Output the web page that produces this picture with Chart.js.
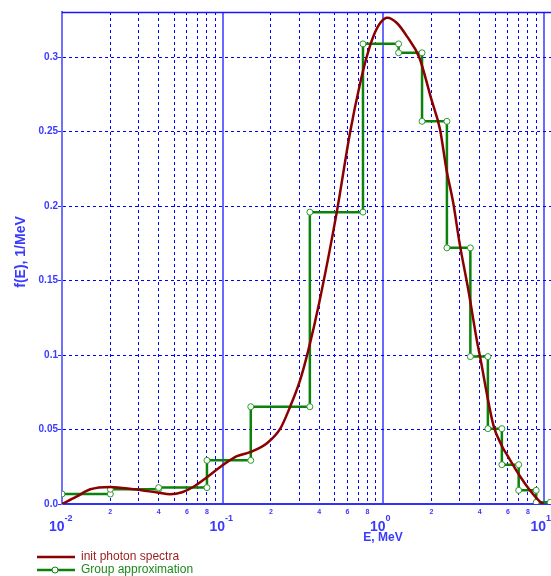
<!DOCTYPE html>
<html>
<head>
<meta charset="utf-8">
<script src="https://cdn.jsdelivr.net/npm/chart.js@4/dist/chart.umd.min.js"></script>
<style>
  html, body { margin: 0; padding: 0; overflow: hidden; background: #fff; }
  #chart { position: absolute; left: 0; top: 0; }
</style>
</head>
<body>
<canvas id="chart" width="566" height="576"></canvas>
<script>
// init photon spectra
const spectrumE = [0.01, 0.0123, 0.015, 0.02, 0.028, 0.04, 0.047, 0.056, 0.066, 0.08, 0.1, 0.122, 0.15, 0.19, 0.23,
                   0.263, 0.304, 0.342, 0.40, 0.515, 0.622, 0.72, 0.79, 0.87, 0.96, 1.065, 1.22, 1.41, 1.68, 2.01,
                   2.26, 2.49, 2.74, 3.0, 3.4, 3.84, 4.02, 4.87, 5.5, 6.0, 7.1, 8.2, 9.5, 10.0];
const spectrumF = [0.0, 0.0049, 0.0099, 0.0115, 0.0099, 0.0076, 0.0066, 0.0079, 0.0116, 0.018, 0.026, 0.032, 0.035, 0.041, 0.051,
                   0.065, 0.083, 0.103, 0.135, 0.196, 0.249, 0.2825, 0.300, 0.314, 0.323, 0.3266, 0.323, 0.314, 0.300, 0.271,
                   0.252, 0.224, 0.202, 0.175, 0.1437, 0.110, 0.099, 0.053, 0.039, 0.032, 0.019, 0.0094, 0.0016, 0.0];

// group approximation: group boundaries and group values
const groupEdges = [0.01, 0.02, 0.04, 0.08, 0.15, 0.35, 0.75, 1.25, 1.75, 2.5, 3.5, 4.5, 5.5, 7, 9, 11];
const groupValues = [0.0067, 0.0099, 0.011, 0.0293, 0.0653, 0.196, 0.309, 0.303, 0.257, 0.172, 0.099, 0.0506, 0.0264, 0.0092, 0.0011];

// axis labels
const decades = [-2, -1, 0, 1];
const minorLabels = [2, 4, 6, 8];
const xMin = 0.01, xMax = 13.8;
const yMin = 0, yMax = 0.3304, yStep = 0.05;

const spectrumData = spectrumE.map((e, i) => ({x: e, y: spectrumF[i]}));
const groupData = [];
groupValues.forEach((v, i) => {
    groupData.push({x: groupEdges[i], y: v});
    groupData.push({x: groupEdges[i + 1], y: v});
});

const xTickValues = [];
decades.forEach(d => {
    for (let m = 1; m <= 9; m++) {
        const v = m * Math.pow(10, d);
        if (v >= xMin && v <= xMax) xTickValues.push(v);
    }
});
const isDecade = v => Math.abs(Math.log10(v) - Math.round(Math.log10(v))) < 1e-9;

const BLUE = '#0000ff';
const TEXT_BLUE = '#3a3aff';

const decor = {
    id: 'decor',
    afterDraw(chart) {
        const {ctx, chartArea: a, scales: {x}} = chart;
        ctx.save();
        // top frame line
        ctx.strokeStyle = '#1515ff';
        ctx.lineWidth = 1.5;
        ctx.beginPath();
        ctx.moveTo(a.left, a.top + 0.5);
        ctx.lineTo(a.right, a.top + 0.5);
        ctx.stroke();

        // x tick labels
        ctx.fillStyle = TEXT_BLUE;
        ctx.textBaseline = 'alphabetic';
        ctx.textAlign = 'center';
        ctx.font = 'bold 7px Arial';
        decades.forEach(d => minorLabels.forEach(m => {
            const v = m * Math.pow(10, d);
            if (v <= xMax) ctx.fillText(String(m), x.getPixelForValue(v), a.bottom + 10);
        }));
        ctx.textAlign = 'left';
        decades.forEach(d => {
            const px = x.getPixelForValue(Math.pow(10, d));
            ctx.font = 'bold 14px Arial';
            const w1 = ctx.measureText('10').width;
            const left = px - 13;
            ctx.fillText('10', left, a.bottom + 27);
            ctx.font = 'bold 9px Arial';
            ctx.fillText(String(d), left + w1, a.bottom + 17);
        });

        // axis titles
        ctx.font = 'bold 12px Arial';
        ctx.textAlign = 'center';
        ctx.textBaseline = 'middle';
        ctx.fillText('E, MeV', x.getPixelForValue(1), 538);
        ctx.save();
        ctx.translate(21, 252);
        ctx.rotate(-Math.PI / 2);
        ctx.font = 'bold 14px Arial';
        ctx.fillText('f(E), 1/MeV', 0, 0);
        ctx.restore();

        // legend
        ctx.lineWidth = 2.5;
        ctx.strokeStyle = '#8b0000';
        ctx.beginPath(); ctx.moveTo(37, 557); ctx.lineTo(75, 557); ctx.stroke();
        ctx.strokeStyle = '#0b820b';
        ctx.beginPath(); ctx.moveTo(37, 570); ctx.lineTo(75, 570); ctx.stroke();
        ctx.lineWidth = 1;
        ctx.fillStyle = '#ffffff';
        ctx.beginPath(); ctx.arc(55, 570, 3, 0, Math.PI * 2); ctx.fill(); ctx.stroke();
        ctx.font = '12px Arial';
        ctx.textAlign = 'left';
        ctx.fillStyle = '#9a1c1c';
        ctx.fillText('init photon spectra', 81, 557);
        ctx.fillStyle = '#1c8a1c';
        ctx.fillText('Group approximation', 81, 570);
        ctx.restore();
    }
};

new Chart(document.getElementById('chart'), {
    type: 'line',
    data: {
        datasets: [{
            label: 'init photon spectra',
            data: spectrumData,
            borderColor: '#8b0000',
            borderWidth: 2.5,
            pointRadius: 0,
            cubicInterpolationMode: 'monotone',
            fill: false
        }, {
            label: 'Group approximation',
            data: groupData,
            borderColor: '#0b820b',
            borderWidth: 2.5,
            pointRadius: 3,
            pointBorderWidth: 1,
            pointBackgroundColor: '#ffffff',
            pointBorderColor: '#2a9a2a',
            tension: 0,
            fill: false
        }]
    },
    options: {
        responsive: false,
        animation: false,
        layout: {autoPadding: false, padding: {top: 12, left: 0, right: 0, bottom: 0}},
        plugins: {legend: {display: false}, tooltip: {enabled: false}},
        scales: {
            x: {
                type: 'logarithmic',
                min: xMin,
                max: xMax,
                afterBuildTicks: scale => { scale.ticks = xTickValues.map(v => ({value: v})); },
                afterFit: scale => { scale.height = 72; },
                ticks: {display: false},
                grid: {
                    drawTicks: false,
                    color: ctx => isDecade(ctx.tick.value) ? '#6a6aff' : BLUE,
                    lineWidth: ctx => isDecade(ctx.tick.value) ? 2 : 1
                },
                border: {
                    color: '#3030ff',
                    width: 1.5,
                    dash: ctx => (ctx.tick && isDecade(ctx.tick.value)) ? [] : [3, 3]
                }
            },
            y: {
                min: yMin,
                max: yMax,
                afterFit: scale => { scale.width = 62; },
                ticks: {
                    stepSize: yStep,
                    includeBounds: false,
                    padding: 0,
                    color: TEXT_BLUE,
                    font: {family: 'Arial', size: 10, weight: 'bold'},
                    callback: v => v === 0 ? '0.0' : String(+v.toFixed(2))
                },
                grid: {
                    color: ctx => ctx.tick && ctx.tick.value === 0 ? '#3030ff' : BLUE,
                    lineWidth: 1,
                    tickLength: 4,
                    tickColor: '#3030ff'
                },
                border: {
                    color: '#7070ff',
                    width: 2,
                    dash: ctx => (ctx.tick && ctx.tick.value === 0) ? [] : [3, 3]
                }
            }
        }
    },
    plugins: [decor]
});
</script>
</body>
</html>
